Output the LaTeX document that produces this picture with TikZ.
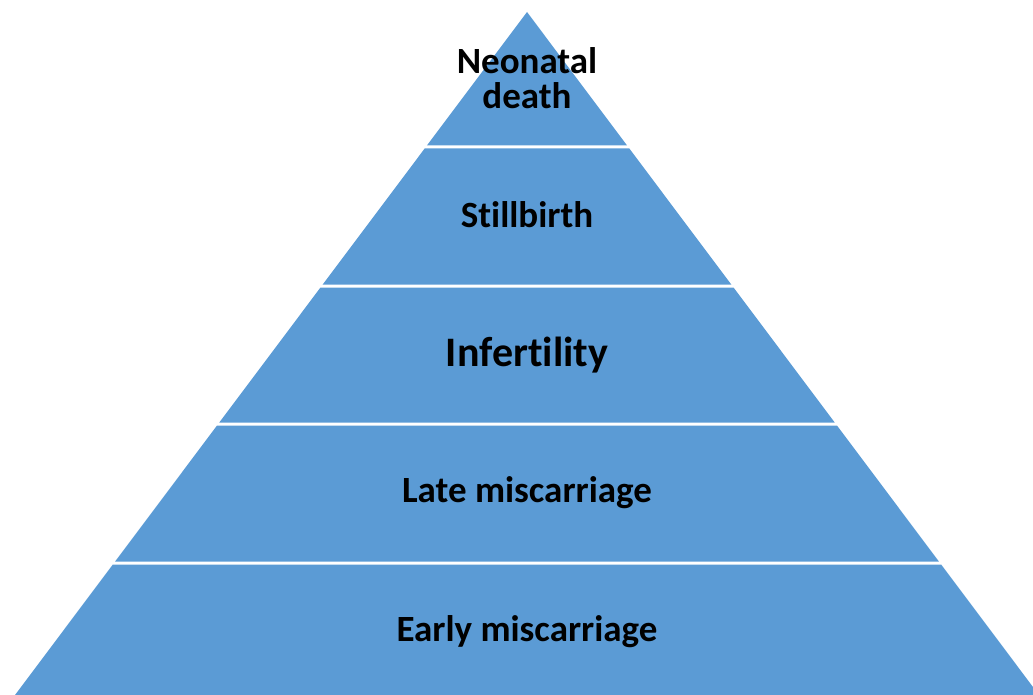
\documentclass[tikz,border=0pt]{standalone}
\usepackage{fontspec}
\setmainfont{Carlito}[Ligatures=NoCommon]
\usetikzlibrary{positioning}
\definecolor{pyrblue}{HTML}{5B9BD5}

\begin{document}
\begin{tikzpicture}[x=1pt, y=-1pt,
    lbl/.style={font=\bfseries\fontsize{37}{35}\selectfont, align=center, text=black},
    biglbl/.style={font=\bfseries\fontsize{42}{44}\selectfont, align=center, text=black}]
    \useasboundingbox (0,0) rectangle (1033,695);

    % Pyramid layers (apex at 527,12; white gaps between bands)
    \foreach \ytop/\ybot in {12/145.5, 148.5/284.5, 287.5/422.5, 425.5/561.5, 564.5/705} {
        \fill[pyrblue] ({527-0.7496*(\ytop-12)},\ytop) -- ({527+0.7496*(\ytop-12)},\ytop)
            -- ({527+0.7496*(\ybot-12)},\ybot) -- ({527-0.7496*(\ybot-12)},\ybot) -- cycle;
    }

    % Labels
    \node[lbl] (neo) at (527,78) {Neonatal\\death};
    \node[lbl] (still) at (527,215) {Stillbirth};
    \node[biglbl] (infert) at (527,355) {Infertility};
    \node[lbl] (late) at (527,493) {Late miscarriage};
    \node[lbl] (early) at (527,632) {Early miscarriage};
\end{tikzpicture}
\end{document}
